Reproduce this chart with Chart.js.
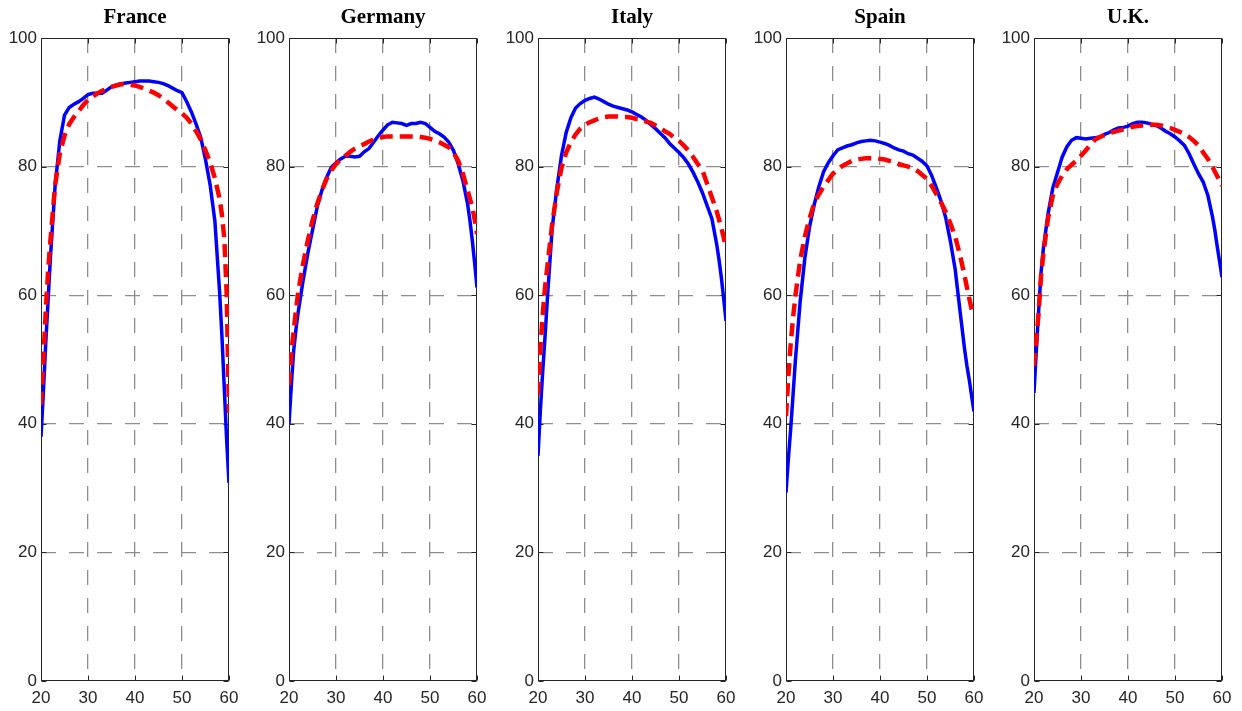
<!DOCTYPE html>
<html>
<head>
<meta charset="utf-8">
<script src="https://cdn.jsdelivr.net/npm/chart.js@4.4.0/dist/chart.umd.min.js"></script>
<style>
html, body { margin: 0; padding: 0; background: #fff; }
#wrap { position: relative; width: 1242px; height: 711px; overflow: hidden; }
#wrap canvas { position: absolute; top: 0; }
</style>
</head>
<body>
<div id="wrap"></div>
<script>
// ages on the x axis (extra half-year points near the steep ends)
const ages = [20, 20.5, 21, 21.5, 22, 23, 24, 25, 26, 27, 28, 29, 30, 31, 32, 33, 34, 35, 36, 37, 38, 39, 40,
              41, 42, 43, 44, 45, 46, 47, 48, 49, 50, 51, 52, 53, 54, 55, 56, 57, 58, 58.5, 59, 59.5, 60];

const countries = ['France', 'Germany', 'Italy', 'Spain', 'U.K.'];

// solid blue curves
const franceData  = [38, 44.9, 52.4, 59.1, 65.8, 77, 84, 88, 89.2, 89.7, 90.1, 90.6, 91.2, 91.4, 91.4, 91.4, 91.9, 92.4, 92.7, 92.9, 93.0, 93.1, 93.2,
                     93.3, 93.3, 93.3, 93.2, 93.1, 92.9, 92.6, 92.2, 91.8, 91.5, 90.1, 88.5, 86.6, 84.5, 81.1, 77.1, 71.5, 60.5, 53.6, 45.5, 37.5, 30.8];
const germanyData = [40, 46, 51.4, 54.8, 57.6, 62.3, 66.5, 70.1, 73.7, 76.3, 78.3, 79.9, 80.6, 81.2, 81.6, 81.6, 81.5, 81.6, 82.3, 82.8, 83.8, 84.8, 85.7,
                     86.5, 86.9, 86.8, 86.7, 86.4, 86.7, 86.7, 86.9, 86.7, 86.1, 85.5, 85.1, 84.6, 83.8, 82.5, 80.4, 77.8, 74.2, 71.6, 68.5, 65, 61.2];
const italyData   = [35, 42, 48.1, 53.6, 59.5, 70.3, 76.6, 81.7, 85.3, 87.6, 89.1, 89.8, 90.3, 90.6, 90.8, 90.5, 90.1, 89.7, 89.4, 89.2, 89.0, 88.8, 88.5,
                     88.1, 87.7, 87.2, 86.5, 85.9, 85.2, 84.5, 83.6, 82.9, 82.2, 81.4, 80.4, 79.1, 77.6, 75.9, 73.9, 71.9, 68, 65.6, 62.8, 59.5, 56];
const spainData   = [29.3, 34.5, 39.2, 44.5, 49.9, 58.9, 65.7, 70.6, 74.1, 76.9, 79.2, 80.6, 81.7, 82.6, 82.9, 83.2, 83.4, 83.7, 83.9, 84.0, 84.1, 84.0, 83.8,
                     83.6, 83.3, 82.9, 82.6, 82.4, 82.0, 81.8, 81.3, 80.8, 80.1, 78.6, 76.7, 74.6, 72, 68.3, 64, 57.7, 51.6, 49, 46.8, 44.3, 41.9];
const ukData      = [44.8, 51.5, 57.7, 63.5, 67.3, 72.7, 76.7, 79.1, 81.5, 83.1, 84.1, 84.5, 84.4, 84.3, 84.4, 84.5, 84.6, 85, 85.3, 85.7, 86, 86.1, 86.3,
                     86.7, 86.9, 86.9, 86.8, 86.6, 86.4, 86, 85.5, 85.1, 84.6, 84, 83.3, 82, 80.4, 78.9, 77.6, 75.5, 72.1, 70, 67.5, 65.2, 62.8];

// dashed red curves
const franceModel  = [43, 50, 57.4, 63.6, 68.5, 77.1, 82, 84.8, 86.6, 87.7, 88.6, 89.6, 90.4, 90.9, 91.4, 91.8, 92.1, 92.4, 92.6, 92.8, 92.8, 92.7, 92.6,
                      92.4, 92.1, 91.8, 91.5, 91.1, 90.6, 90.0, 89.4, 88.8, 88.3, 87.6, 86.7, 85.5, 84.2, 82.5, 80.6, 78.2, 75, 72.5, 68.8, 60.4, 41.7];
const germanyModel = [46, 51, 54.5, 57.8, 60.7, 64.9, 68.5, 71.6, 74.2, 76.3, 78.1, 79.4, 80.4, 81.1, 81.7, 82.3, 82.8, 83.2, 83.5, 83.9, 84.2, 84.4, 84.6,
                      84.7, 84.7, 84.7, 84.7, 84.7, 84.7, 84.7, 84.6, 84.5, 84.3, 84.1, 83.8, 83.4, 83, 82.2, 80.9, 78.9, 76.3, 75, 73.7, 71.8, 69.5];
const italyModel   = [44.5, 51.5, 57, 61.3, 64.5, 71, 76, 79.8, 82.2, 83.8, 85, 85.9, 86.5, 86.9, 87.2, 87.5, 87.7, 87.8, 87.8, 87.8, 87.7, 87.7, 87.6,
                      87.4, 87.3, 87.0, 86.8, 86.4, 86.0, 85.5, 85.1, 84.5, 84.0, 83.3, 82.5, 81.5, 80.4, 79.4, 77.3, 75.2, 73.1, 71.8, 70.5, 69, 67.4];
const spainModel   = [41.2, 47.4, 52.4, 56.5, 59.9, 65.4, 69.1, 71.9, 74.3, 75.7, 76.9, 77.9, 78.9, 79.5, 80.1, 80.5, 80.9, 81.1, 81.2, 81.3, 81.3, 81.3, 81.2,
                      81.1, 80.9, 80.7, 80.4, 80.2, 80.0, 79.8, 79.3, 78.7, 78.1, 77.0, 75.7, 74.4, 72.9, 71.1, 69.1, 66.3, 63, 61.2, 59.5, 57.8, 56.8];
const ukModel      = [49, 53, 57.4, 63, 66.5, 72, 75.5, 77.3, 78.6, 79.6, 80.3, 80.9, 81.7, 82.5, 83.4, 84.2, 84.6, 84.9, 85.2, 85.4, 85.6, 85.8, 86,
                      86.2, 86.3, 86.4, 86.5, 86.5, 86.5, 86.4, 86.2, 86, 85.7, 85.4, 85.1, 84.6, 84, 83.3, 82.2, 81.2, 79.9, 79.2, 78.5, 77.8, 77];

const xTicks = [20, 30, 40, 50, 60];
const yTicks = [0, 20, 40, 60, 80, 100];

const dataSeries = [franceData, germanyData, italyData, spainData, ukData];
const modelSeries = [franceModel, germanyModel, italyModel, spainModel, ukModel];

Chart.defaults.font.family = "'Liberation Sans', Arial, sans-serif";
Chart.defaults.color = '#262626';

const GRID = '#8e8e8e';
const GRID_DASH = [15, 13];

const toPoints = (vals) => vals.map((v, i) => ({ x: ages[i], y: v }));

// MATLAB style box with inward tick marks
const axesBox = {
    id: 'axesBox',
    beforeDatasetsDraw(chart) {
        const { ctx, chartArea: a, scales: { x, y } } = chart;
        const l = Math.round(a.left) + 0.5, r = Math.round(a.right) - 0.5;
        const t = Math.round(a.top) + 0.5, b = Math.round(a.bottom) - 0.5;
        const len = 5;
        ctx.save();
        ctx.strokeStyle = '#262626';
        ctx.lineWidth = 1;
        ctx.strokeRect(l, t, r - l, b - t);
        ctx.beginPath();
        yTicks.forEach(v => {
            const py = Math.round(y.getPixelForValue(v)) + 0.5;
            ctx.moveTo(l, py); ctx.lineTo(l + len, py);
            ctx.moveTo(r, py); ctx.lineTo(r - len, py);
        });
        xTicks.forEach(v => {
            const px = Math.round(x.getPixelForValue(v)) + 0.5;
            ctx.moveTo(px, b); ctx.lineTo(px, b - len);
            ctx.moveTo(px, t); ctx.lineTo(px, t + len);
        });
        ctx.stroke();
        ctx.restore();
    }
};

const panelLefts = [0, 248, 497, 745, 993];
const wrap = document.getElementById('wrap');

countries.forEach((name, i) => {
    const canvas = document.createElement('canvas');
    canvas.width = 248;
    canvas.height = 711;
    canvas.style.left = panelLefts[i] + 'px';
    wrap.appendChild(canvas);

    new Chart(canvas.getContext('2d'), {
        type: 'line',
        data: {
            datasets: [{
                label: 'model',
                data: toPoints(modelSeries[i]),
                borderColor: '#ff0000',
                borderWidth: 4.5,
                borderDash: [13, 7],
                borderCapStyle: 'butt',
                pointRadius: 0,
                tension: 0
            }, {
                label: 'data',
                data: toPoints(dataSeries[i]),
                borderColor: '#0000ff',
                borderWidth: 3.5,
                pointRadius: 0,
                tension: 0
            }]
        },
        options: {
            responsive: false,
            animation: false,
            layout: { padding: { left: 0, right: 19, top: 0, bottom: 0 } },
            scales: {
                x: {
                    type: 'linear',
                    min: 20,
                    max: 60,
                    afterFit: (s) => { s.height = 30; },
                    afterBuildTicks: (s) => { s.ticks = xTicks.map(v => ({ value: v })); },
                    border: { display: false, dash: GRID_DASH },
                    grid: {
                        drawTicks: false,
                        color: (c) => (c.tick && (c.tick.value === 20 || c.tick.value === 60)) ? 'rgba(0,0,0,0)' : GRID,
                        lineWidth: 1.3
                    },
                    ticks: { padding: 7, font: { size: 17 }, color: '#262626', maxRotation: 0 }
                },
                y: {
                    min: 0,
                    max: 100,
                    afterFit: (s) => { s.width = 41; },
                    afterBuildTicks: (s) => { s.ticks = yTicks.map(v => ({ value: v })); },
                    border: { display: false, dash: GRID_DASH },
                    grid: {
                        drawTicks: false,
                        color: (c) => (c.tick && (c.tick.value === 0 || c.tick.value === 100)) ? 'rgba(0,0,0,0)' : GRID,
                        lineWidth: 1.3
                    },
                    ticks: { padding: 4, font: { size: 17 }, color: '#262626' }
                }
            },
            plugins: {
                legend: { display: false },
                tooltip: { enabled: false },
                title: {
                    display: true,
                    text: name,
                    fullSize: false,
                    color: '#000',
                    font: { family: "'Liberation Serif', 'Times New Roman', serif", weight: 'bold', size: 21 },
                    padding: { top: 5, bottom: 7.8 }
                }
            }
        },
        plugins: [axesBox]
    });
});
</script>
</body>
</html>
